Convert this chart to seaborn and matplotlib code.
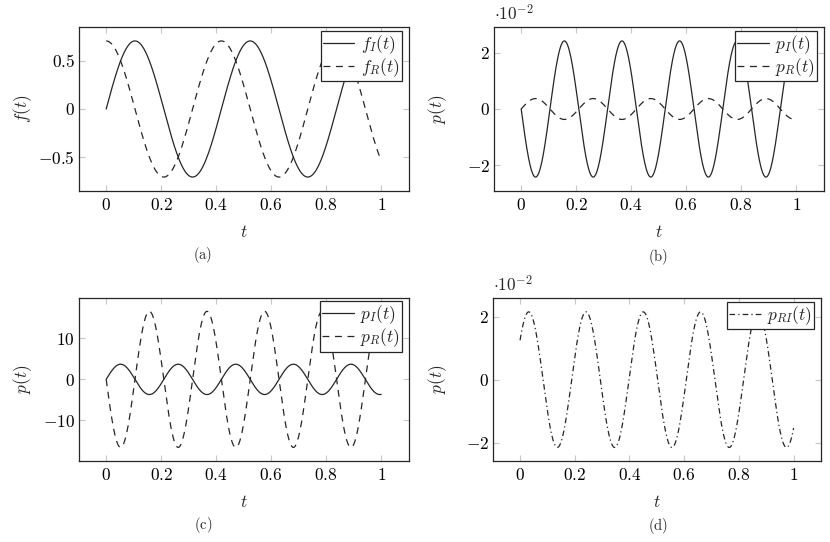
import numpy as np
import pandas as pd
import seaborn as sns
import matplotlib.pyplot as plt
from matplotlib.ticker import FuncFormatter, FixedLocator

# -----------------------------
# Data: sinusoid parameters
# -----------------------------
t_grid = np.linspace(0.0, 1.0, 600)

panel_ids = ["a", "b", "c", "d"]
series_names = [
    ["$f_I(t)$", "$f_R(t)$"],
    ["$p_I(t)$", "$p_R(t)$"],
    ["$p_I(t)$", "$p_R(t)$"],
    ["$p_{RI}(t)$"],
]
amplitudes = [
    [0.7071, 0.7071],
    [0.0241, 0.0037],
    [3.7, 16.6],
    [0.0215],
]
omegas = [
    [15.0, 15.0],
    [30.0, 30.0],
    [30.0, 30.0],
    [30.0],
]
phases = [
    [0.0, np.pi / 2],
    [np.pi, 0.0],
    [0.0, np.pi],
    [0.62],
]
line_styles = [
    ["-", (0, (5.5, 4.5))],
    ["-", (0, (5.5, 4.5))],
    ["-", (0, (5.5, 4.5))],
    [(0, (4.5, 2.5, 1, 2.5))],
]
y_labels = ["$f(t)$", "$p(t)$", "$p(t)$", "$p(t)$"]
y_ticks = [[-0.5, 0, 0.5], [-0.02, 0, 0.02], [-10, 0, 10], [-0.02, 0, 0.02]]
y_scale = [1, 100, 1, 100]
x_ticks = [0, 0.2, 0.4, 0.6, 0.8, 1]
captions = ["(a)", "(b)", "(c)", "(d)"]

# -----------------------------
# Style
# -----------------------------
sns.set_theme(style="white")
plt.rcParams["mathtext.fontset"] = "cm"
plt.rcParams["font.family"] = ["DejaVu Serif"]

fig = plt.figure(figsize=(8.3, 5.42), dpi=100)

positions = [
    [0.0948, 0.6482, 0.3976, 0.3014],
    [0.5948, 0.6482, 0.3976, 0.3014],
    [0.0948, 0.1494, 0.3976, 0.3013],
    [0.5936, 0.1494, 0.3955, 0.3002],
]
caption_xy = [(0.2446, 0.529), (0.7924, 0.526), (0.2446, 0.031), (0.7924, 0.029)]

dark = "#262626"
fs = 12.5

for k, pid in enumerate(panel_ids):
    ax = fig.add_axes(positions[k])
    rows = []
    for name, a, w, ph in zip(series_names[k], amplitudes[k], omegas[k], phases[k]):
        rows.append(pd.DataFrame({"t": t_grid, "y": a * np.sin(w * t_grid + ph), "series": name}))
    df = pd.concat(rows, ignore_index=True)

    for name, ls in zip(series_names[k], line_styles[k]):
        sub = df[df["series"] == name]
        sns.lineplot(data=sub, x="t", y="y", ax=ax, color=dark, linewidth=0.9,
                     linestyle=ls, label=name, sort=False)

    ymax = max(amplitudes[k]) * 1.2
    ax.set_xlim(-0.1, 1.1)
    ax.set_ylim(-ymax, ymax)

    ax.xaxis.set_major_locator(FixedLocator(x_ticks))
    ax.yaxis.set_major_locator(FixedLocator(y_ticks[k]))
    ax.xaxis.set_major_formatter(FuncFormatter(lambda v, p: f"${v:g}$"))
    sc = y_scale[k]
    ax.yaxis.set_major_formatter(FuncFormatter(lambda v, p, sc=sc: f"${round(v * sc, 6):g}$"))

    ax.tick_params(axis="both", which="major", direction="in", length=4.3, width=0.8,
                   color="#c8c8c8", labelsize=fs, labelcolor="black",
                   top=True, right=True, bottom=True, left=True)
    ax.tick_params(axis="x", pad=4.5)
    ax.tick_params(axis="y", pad=2.7)
    for sp in ax.spines.values():
        sp.set_color(dark)
        sp.set_linewidth(0.9)

    ax.set_xlabel("$t$", fontsize=fs)
    ax.set_ylabel(y_labels[k], fontsize=fs)
    ax.xaxis.set_label_coords(0.5, -0.255)
    ax.xaxis.label.set_va("center")
    ax.yaxis.set_label_coords(-0.169, 0.5)
    ax.yaxis.label.set_va("center")

    if y_scale[k] != 1:
        ax.text(0.0, 1.02, r"$\cdot 10^{-2}$", transform=ax.transAxes,
                ha="left", va="bottom", fontsize=fs)

    leg = ax.legend(loc="upper right", bbox_to_anchor=(0.98, 0.98), fontsize=fs,
                    frameon=True, fancybox=False, framealpha=1, edgecolor=dark,
                    handlelength=1.8, handletextpad=0.35, borderpad=0.15,
                    labelspacing=0.0, borderaxespad=0.0)
    leg.get_frame().set_linewidth(0.9)

    fig.text(caption_xy[k][0], caption_xy[k][1], r"$\mathrm{" + captions[k] + "}$",
             ha="center", va="center", fontsize=10.5)

fig.savefig("out.png", dpi=100)
